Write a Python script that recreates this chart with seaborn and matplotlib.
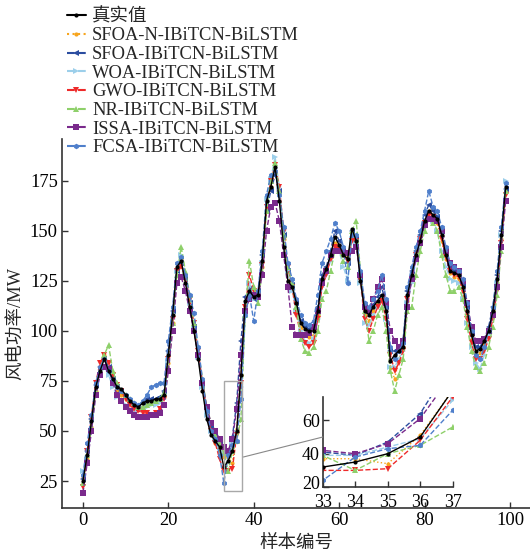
import numpy as np
import pandas as pd
import seaborn as sns
import matplotlib
matplotlib.use("Agg")
import matplotlib.pyplot as plt
from matplotlib.patches import Rectangle, ConnectionPatch
from matplotlib.lines import Line2D
from matplotlib.transforms import ScaledTranslation

sns.set_theme(style="white")
plt.rcParams["font.family"] = ["Liberation Serif", "Noto Sans CJK SC"]
plt.rcParams["axes.unicode_minus"] = False

# sample index
samples = list(range(100))

actual = [25, 38, 55, 72, 80, 86, 80, 76, 72, 71,
          68, 65, 63, 62, 64, 65, 65, 66, 66, 68,
          88, 108, 132, 135, 124, 112, 100, 86, 70, 56,
          48, 45, 42, 32, 35, 40, 50, 78, 115, 120,
          117, 118, 135, 165, 172, 182, 165, 142, 125, 122,
          114, 104, 101, 100, 100, 110, 126, 131, 138, 147,
          143, 138, 136, 151, 145, 125, 110, 108, 112, 115,
          118, 110, 85, 88, 90, 92, 118, 128, 138, 145,
          155, 160, 158, 156, 148, 138, 130, 129, 128, 122,
          110, 98, 90, 91, 95, 100, 110, 126, 148, 172]

sfoa_n = [27, 36, 52, 70, 82, 88, 82, 75, 70, 68,
          66, 64, 62, 61, 62, 63, 64, 65, 65, 67,
          84, 104, 128, 136, 126, 113, 100, 87, 72, 58,
          50, 44, 40, 37, 37, 34, 51, 78, 112, 122,
          118, 120, 132, 162, 172, 180, 168, 146, 128, 121,
          110, 102, 98, 97, 98, 108, 124, 130, 137, 144,
          142, 139, 137, 148, 146, 127, 108, 105, 110, 114,
          117, 108, 82, 76, 86, 92, 115, 126, 137, 145,
          154, 160, 157, 154, 145, 136, 129, 127, 126, 120,
          108, 96, 88, 89, 94, 100, 110, 124, 146, 170]

sfoa = [26, 40, 56, 73, 82, 86, 82, 76, 72, 70,
        67, 64, 62, 62, 64, 66, 66, 66, 67, 70,
        90, 110, 130, 134, 126, 114, 102, 88, 73, 60,
        52, 48, 44, 41, 39, 47, 64, 95, 117, 121,
        116, 120, 138, 160, 170, 178, 170, 148, 130, 123,
        114, 105, 102, 101, 103, 112, 128, 132, 140, 150,
        145, 140, 134, 150, 146, 126, 112, 109, 113, 117,
        122, 112, 90, 90, 92, 96, 120, 130, 140, 148,
        158, 163, 160, 157, 150, 139, 132, 130, 129, 123,
        112, 99, 92, 92, 96, 102, 112, 128, 150, 171]

woa = [30, 35, 50, 68, 78, 82, 78, 72, 67, 65,
       63, 61, 60, 60, 61, 62, 63, 63, 64, 66,
       85, 106, 130, 138, 128, 114, 101, 87, 72, 58,
       50, 46, 43, 39, 39, 44, 49, 72, 110, 124,
       116, 118, 134, 166, 176, 187, 172, 150, 130, 120,
       110, 100, 95, 94, 96, 106, 122, 128, 135, 142,
       140, 132, 125, 146, 144, 124, 104, 103, 108, 112,
       116, 106, 82, 82, 86, 90, 114, 124, 135, 143,
       152, 156, 155, 150, 140, 132, 126, 125, 124, 116,
       104, 92, 84, 81, 88, 98, 108, 124, 148, 175]

gwo = [22, 40, 57, 74, 84, 88, 84, 78, 73, 70,
       66, 63, 61, 60, 59, 59, 58, 59, 61, 66,
       86, 106, 130, 132, 127, 116, 104, 90, 74, 60,
       50, 44, 36, 30, 30, 31, 48, 74, 112, 128,
       120, 118, 133, 162, 175, 183, 172, 150, 132, 122,
       108, 98, 94, 92, 94, 106, 122, 128, 136, 142,
       141, 138, 135, 145, 145, 126, 106, 100, 106, 112,
       115, 106, 88, 80, 84, 90, 116, 126, 138, 146,
       154, 158, 157, 155, 146, 137, 130, 128, 127, 120,
       106, 94, 86, 86, 90, 96, 106, 120, 144, 168]

nr = [24, 38, 52, 70, 80, 88, 93, 80, 74, 70,
      68, 66, 64, 62, 62, 63, 64, 65, 66, 69,
      82, 104, 128, 142, 130, 118, 104, 90, 76, 62,
      54, 48, 44, 39, 30, 40, 45, 56, 108, 135,
      122, 114, 130, 160, 175, 184, 170, 148, 132, 124,
      112, 96, 90, 89, 92, 100, 116, 120, 130, 140,
      140, 135, 132, 150, 155, 130, 110, 95, 100, 108,
      112, 100, 80, 70, 78, 86, 110, 112, 128, 140,
      150, 156, 154, 150, 138, 128, 120, 120, 122, 116,
      102, 90, 82, 80, 84, 92, 102, 118, 140, 170]

issa = [19, 34, 50, 68, 78, 82, 81, 74, 68, 65,
        62, 60, 58, 57, 57, 57, 58, 58, 59, 63,
        80, 100, 124, 127, 120, 110, 100, 88, 74, 62,
        54, 50, 46, 42, 40, 46, 61, 88, 110, 116,
        118, 117, 128, 150, 162, 164, 155, 138, 122, 102,
        98, 98, 98, 99, 102, 110, 124, 130, 138, 140,
        140, 140, 139, 140, 142, 128, 112, 110, 116, 122,
        126, 114, 100, 95, 92, 95, 112, 126, 136, 144,
        153, 156, 156, 155, 150, 140, 134, 132, 130, 125,
        114, 102, 95, 95, 96, 100, 108, 122, 142, 165]

fcsa = [28, 44, 58, 74, 82, 86, 80, 76, 72, 70,
        68, 66, 64, 63, 65, 68, 72, 73, 74, 74,
        95, 112, 134, 137, 128, 118, 109, 92, 76, 60,
        50, 46, 38, 24, 38, 43, 45, 66, 108, 118,
        105, 120, 140, 168, 178, 180, 168, 152, 134, 126,
        116, 108, 104, 103, 105, 118, 134, 140, 146, 154,
        150, 142, 124, 148, 148, 130, 114, 112, 116, 120,
        128, 116, 92, 86, 90, 94, 122, 132, 142, 150,
        160, 170, 162, 160, 152, 142, 134, 132, 130, 126,
        114, 100, 88, 86, 92, 100, 112, 130, 152, 174]

names = ["真实值", "SFOA-N-IBiTCN-BiLSTM", "SFOA-IBiTCN-BiLSTM", "WOA-IBiTCN-BiLSTM",
         "GWO-IBiTCN-BiLSTM", "NR-IBiTCN-BiLSTM", "ISSA-IBiTCN-BiLSTM", "FCSA-IBiTCN-BiLSTM"]
values = [actual, sfoa_n, sfoa, woa, gwo, nr, issa, fcsa]

colors = ["#000000", "#F7A51E", "#2B4DA0", "#9CCFEA", "#EE2A2A", "#8ED06A", "#7A2A8C", "#4F7FCB"]
styles = ["-", ":", "--", "--", "--", "--", "--", "--"]
markers = ["o", "o", "<", ">", "v", "^", "s", "h"]
msizes = [3, 3, 4, 4, 4.5, 4.5, 4.5, 4]

df = pd.DataFrame({name: vals for name, vals in zip(names, values)})
df["样本"] = samples

fig = plt.figure(figsize=(5.30, 5.56), dpi=100)
ax = fig.add_axes([0.117, 0.0863, 0.883, 0.664])
ins = fig.add_axes([0.609, 0.124, 0.245, 0.162])

draw_order = [1, 2, 3, 4, 5, 6, 7, 0]
for target in (ax, ins):
    for k in draw_order:
        sns.lineplot(data=df, x="样本", y=names[k], ax=target, color=colors[k],
                     linestyle=styles[k], marker=markers[k], markersize=msizes[k],
                     markeredgewidth=0, linewidth=1.0, legend=False, zorder=3 if k == 0 else 2)

spine_col = "#333333"
for a in (ax, ins):
    for s in ("top", "right"):
        a.spines[s].set_visible(False)
    for s in ("left", "bottom"):
        a.spines[s].set_color(spine_col)
        a.spines[s].set_linewidth(1.2)
    a.tick_params(direction="in", length=4, width=1, colors=spine_col, labelcolor="black",
                  labelsize=13.3, pad=3, left=True, bottom=True)
    a.set_xlabel("")
    a.set_ylabel("")

ax.set_xlim(-4.9, 104.7)
ax.set_ylim(11.5, 196)
ax.set_xticks([0, 20, 40, 60, 80, 100])
ax.set_yticks([25, 50, 75, 100, 125, 150, 175])
ax.set_xlabel("样本编号", fontsize=13.3, labelpad=5)
ax.set_ylabel("风电功率/MW", fontsize=13.3, labelpad=4)

ins.set_xlim(33, 37)
ins.set_ylim(20, 74)
ins.set_xticks([33, 34, 35, 36, 37])
ins.set_yticks([20, 40, 60])
ins.tick_params(axis="x", pad=5, labelsize=13)
ins.tick_params(axis="y", pad=2, labelsize=13)
ins.patch.set_alpha(0)
# lift the lowest inset y label a little so it clears the "33" below it
low = ins.yaxis.get_major_ticks()[0].label1
low.set_transform(low.get_transform() + ScaledTranslation(0, 3 / 72, fig.dpi_scale_trans))

# zoom box and connector
ax.add_patch(Rectangle((33, 20), 4.2, 55, fill=False, edgecolor="#A8A8A8", linewidth=1.0, zorder=4))
con = ConnectionPatch(xyA=(37.6, 37), coordsA=ax.transData,
                      xyB=(33, 50), coordsB=ins.transData,
                      color="#888888", linewidth=0.8)
fig.add_artist(con)

handles = [Line2D([0], [0], color=colors[k], linestyle=styles[k], marker=markers[k],
                  markersize=msizes[k], markeredgewidth=0, linewidth=1.5)
           for k in range(8)]
leg = fig.legend(handles, names, loc="upper left", bbox_to_anchor=(0.106, 1.005),
                 frameon=False, fontsize=13.3, handlelength=1.0, handletextpad=0.35,
                 labelspacing=0.09, borderaxespad=0.2)

fig.savefig("out.png", dpi=100)
